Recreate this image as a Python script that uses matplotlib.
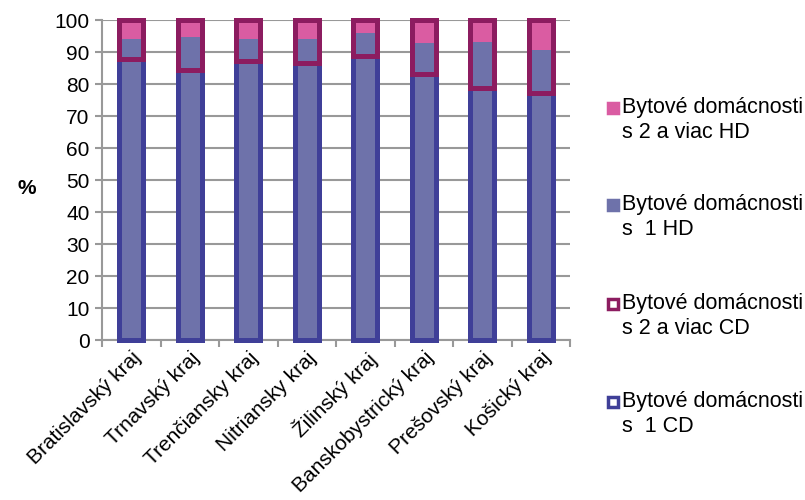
import matplotlib
matplotlib.use('Agg')
import matplotlib.pyplot as plt
from matplotlib.patches import Rectangle

plt.rcParams['font.family'] = ['Liberation Sans', 'DejaVu Sans']

regions = ['Bratislavský kraj', 'Trnavský kraj', 'Trenčiansky kraj', 'Nitriansky kraj',
           'Žilinský kraj', 'Banskobystrický kraj', 'Prešovský kraj', 'Košický kraj']

# bytové domácnosti s 1 / 2+ cenzovými domácnosťami (%)
cd1 = [87.7, 84.4, 87.2, 86.6, 88.8, 83.1, 78.6, 77.3]
cd2 = [12.3, 15.6, 12.8, 13.4, 11.2, 16.9, 21.4, 22.7]
# bytové domácnosti s 1 / 2+ hospodáriacimi domácnosťami (%)
hd1 = [94.0, 94.6, 94.0, 94.0, 95.8, 92.9, 93.0, 90.6]
hd2 = [6.0, 5.4, 6.0, 6.0, 4.2, 7.1, 7.0, 9.4]

labels = ['Bytové domácnosti\ns 2 a viac HD', 'Bytové domácnosti\ns  1 HD',
          'Bytové domácnosti\ns 2 a viac CD', 'Bytové domácnosti\ns  1 CD']

c_hd1 = '#6E72AA'
c_hd2 = '#DA5CA2'
c_cd1 = '#3F3F98'
c_cd2 = '#8C1C60'
grid_c = '#999999'
fs = 15

fig = plt.figure(figsize=(8.05, 5), dpi=100)
ax = fig.add_axes([102 / 805, 160 / 500, 468 / 805, 320 / 500])

x = list(range(len(regions)))
w = 0.41

# filled HD bars
ax.bar(x, hd1, width=w, color=c_hd1, zorder=2)
ax.bar(x, hd2, width=w, bottom=hd1, color=c_hd2, zorder=2)

# outlined CD bars
ax.bar(x, cd1, width=w, fill=False, edgecolor=c_cd1, linewidth=3.6, zorder=3, clip_on=False)
ax.bar(x, cd2, width=w, bottom=cd1, fill=False, edgecolor=c_cd2, linewidth=3.6, zorder=4,
       clip_on=False)

ax.set_xlim(-0.5, len(regions) - 0.5)
ax.set_ylim(0, 100)
ax.set_yticks(range(0, 101, 10))
ax.yaxis.grid(True, color=grid_c, linewidth=1.5)
ax.set_axisbelow(True)

ax.set_xticks(x)
ax.set_xticklabels(regions, rotation=45, ha='right', va='top', rotation_mode='anchor',
                   fontsize=fs)
ax.set_xticks([i - 0.5 for i in range(len(regions) + 1)], minor=True)
ax.tick_params(axis='x', which='major', length=0, pad=6)
ax.tick_params(axis='x', which='minor', length=5, color=grid_c, width=1.5)
ax.tick_params(axis='y', length=5, color=grid_c, width=1.5, labelsize=fs, pad=4)

for s in ['top', 'right']:
    ax.spines[s].set_visible(False)
for s in ['left', 'bottom']:
    ax.spines[s].set_color(grid_c)
    ax.spines[s].set_linewidth(1.5)

fig.text(27 / 805, 1 - 188 / 500, '%', fontsize=fs, fontweight='bold', ha='center',
         va='center')

# legend drawn by hand: marker aligned to the first line of each entry
leg_y = [108, 205, 304, 402]
styles = [(c_hd2, c_hd2), (c_hd1, c_hd1), ('white', c_cd2), ('white', c_cd1)]
for yy, lab, (fc, ec) in zip(leg_y, labels, styles):
    fig.patches.append(Rectangle((608 / 805, 1 - (yy + 5) / 500), 10 / 805, 10 / 500,
                                 facecolor=fc, edgecolor=ec, linewidth=2.5,
                                 transform=fig.transFigure, figure=fig))
    fig.text(622 / 805, 1 - (yy - 11) / 500, lab, fontsize=15.5, ha='left', va='top',
             linespacing=1.25)

fig.savefig('out.png', dpi=100)
